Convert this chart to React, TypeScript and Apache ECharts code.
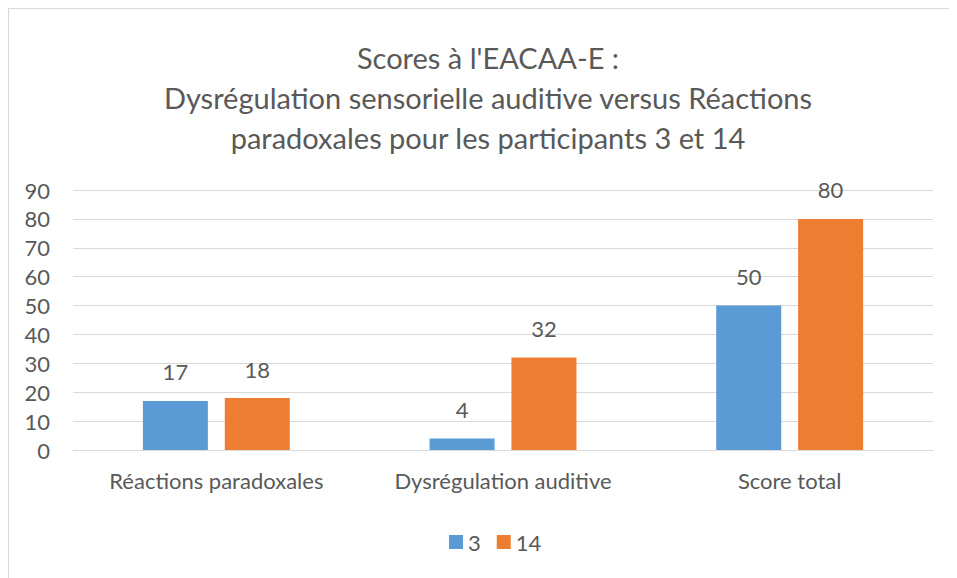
import React, { useEffect, useRef } from "react";
import * as echarts from "echarts";

const categories = ["Réactions paradoxales", "Dysrégulation auditive", "Score total"];
const series3 = [17, 4, 50];
const series14 = [18, 32, 80];
const seriesNames = ["3", "14"];
const titleText = "Scores à l'EACAA-E :\nDysrégulation sensorielle auditive versus Réactions\nparadoxales pour les participants 3 et 14";

const FONT = "Lato, 'Open Sans', sans-serif";
const TXT = "#595959";
const FS = 22;

export default function App() {
  const ref = useRef<HTMLDivElement>(null);
  useEffect(() => {
    if (!ref.current) return;
    const chart = echarts.init(ref.current, undefined, { renderer: "svg" });
    const label = {
      show: true,
      position: "top" as const,
      distance: 18,
      color: TXT,
      fontSize: FS,
      fontFamily: FONT,
    };
    chart.setOption({
      animation: false,
      backgroundColor: "#ffffff",
      textStyle: { fontFamily: FONT },
      title: {
        text: titleText,
        left: 479,
        top: 28,
        padding: 0,
        textAlign: "center",
        textStyle: {
          fontSize: 29,
          lineHeight: 40,
          fontWeight: "normal",
          color: TXT,
          fontFamily: FONT,
        },
      },
      legend: {
        data: seriesNames,
        left: 440,
        top: 522,
        padding: 0,
        icon: "rect",
        itemWidth: 14,
        itemHeight: 14,
        itemGap: 16,
        itemTextGap: 5,
        textStyle: { fontSize: FS, color: TXT, fontFamily: FONT },
      },
      grid: { left: 64, right: 24, top: 181, bottom: 128, containLabel: false },
      xAxis: {
        type: "category",
        data: categories,
        axisLine: { show: true, lineStyle: { color: "#d9d9d9", width: 1 } },
        axisTick: { show: false },
        axisLabel: { color: TXT, fontSize: FS, fontFamily: FONT, margin: 19 },
      },
      yAxis: {
        type: "value",
        min: 0,
        max: 90,
        interval: 10,
        axisLine: { show: false },
        axisTick: { show: false },
        splitLine: { lineStyle: { color: "#d9d9d9", width: 1 } },
        axisLabel: { color: TXT, fontSize: FS, fontFamily: FONT, margin: 23 },
      },
      series: [
        {
          name: seriesNames[0],
          type: "bar",
          data: series3,
          barWidth: 65,
          barGap: "26%",
          itemStyle: { color: "#5b9bd5" },
          label,
        },
        {
          name: seriesNames[1],
          type: "bar",
          data: series14,
          barWidth: 65,
          barGap: "26%",
          itemStyle: { color: "#ed7d31" },
          label,
        },
      ],
    });
    return () => chart.dispose();
  }, []);
  return (
    <div
      style={{
        width: 949,
        height: 570,
        boxSizing: "border-box",
        borderTop: "1px solid #d9d9d9",
        borderLeft: "1px solid #d9d9d9",
        background: "#fff",
      }}
    >
      <div ref={ref} style={{ width: 948, height: 569 }} />
    </div>
  );
}
